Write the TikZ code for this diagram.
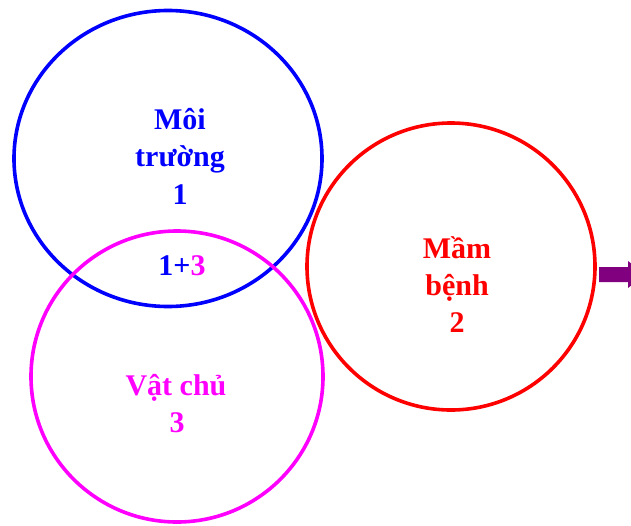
\documentclass[tikz,border=0pt]{standalone}
\usepackage{fontspec}
\setmainfont{Liberation Serif}
\definecolor{envblue}{RGB}{0,0,255}
\definecolor{hostpink}{RGB}{255,0,255}
\definecolor{germred}{RGB}{255,0,0}
\definecolor{arrowpurple}{RGB}{128,0,128}
\begin{document}
\begin{tikzpicture}[x=1pt,y=-1pt,
  ring/.style={line width=3.6pt},
  lbl/.style={font=\fontsize{30}{37}\selectfont\bfseries, align=center, inner sep=0pt, anchor=base}]
\useasboundingbox (0,0) rectangle (631,525);
\clip (0,0) rectangle (631,525);
% three overlapping factor circles
\draw[ring, envblue] (168,158.5) ellipse [x radius=154, y radius=148];
\draw[ring, hostpink] (177,376.5) ellipse [x radius=146, y radius=145.5];
\draw[ring, germred] (451,266.5) ellipse [x radius=144, y radius=143.5];
% labels
\node[lbl, text=envblue] (env1) at (180,129) {Môi};
\node[lbl, text=envblue] (env2) at (180,166) {trường};
\node[lbl, text=envblue] (env3) at (180,204) {1};
\node[lbl] (both) at (182,275) {\textcolor{envblue}{1+}\textcolor{hostpink}{3}};
\node[lbl, text=germred] (germ1) at (457,258) {Mầm};
\node[lbl, text=germred] (germ2) at (457,295) {bệnh};
\node[lbl, text=germred] (germ3) at (457,332) {2};
\node[lbl, text=hostpink] (host1) at (176,395) {Vật chủ};
\node[lbl, text=hostpink] (host2) at (177,432) {3};
% block arrow on the right edge
\fill[arrowpurple] (599,267) -- (628,267) -- (628,261) -- (645,274.5) -- (628,288) -- (628,282) -- (599,282) -- cycle;
\end{tikzpicture}
\end{document}
